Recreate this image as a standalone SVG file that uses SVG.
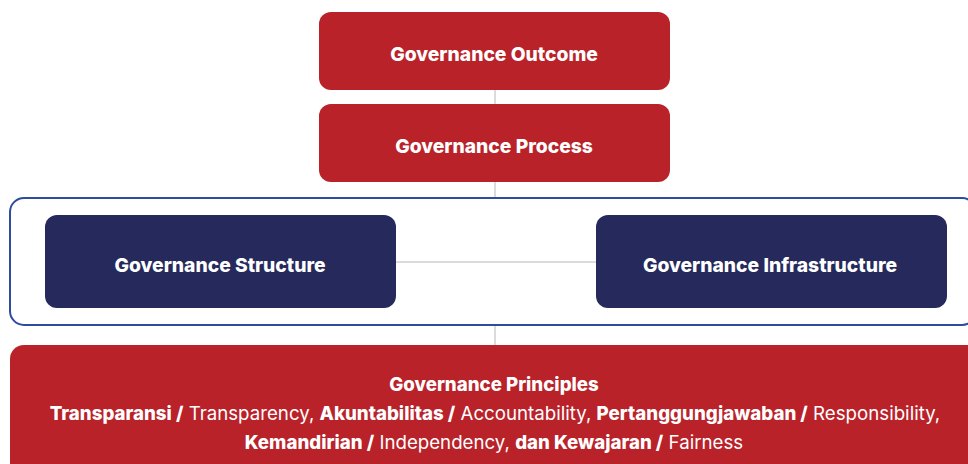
<svg xmlns="http://www.w3.org/2000/svg" width="968" height="464" viewBox="0 0 968 464">
<style>
.red{fill:#b92229}
.navy{fill:#25295c}
.t{font-family:Inter,"Noto Sans",sans-serif;font-size:19.3px;fill:#fff;text-anchor:middle;dominant-baseline:central;font-weight:800}
.l{font-size:18.7px}
.b{font-weight:800}
.n{font-weight:400}
.conn{stroke:#cfcfcf;stroke-width:1.5;fill:none}
</style>
<rect width="968" height="464" fill="#fff"/>
<g id="connectors">
<line class="conn" x1="495" y1="90" x2="495" y2="104"/>
<line class="conn" x1="495" y1="182" x2="495" y2="198"/>
<line class="conn" x1="396" y1="262" x2="596" y2="262"/>
<line class="conn" x1="495" y1="325" x2="495" y2="345"/>
</g>
<g id="container">
<rect x="10" y="198" width="966" height="127" rx="14" fill="none" stroke="#2d4c9c" stroke-width="2"/>
</g>
<g id="outcome">
<rect class="red" x="319" y="12" width="351" height="78" rx="12"/>
<text class="t" x="494" y="54">Governance Outcome</text>
</g>
<g id="process">
<rect class="red" x="319" y="104" width="351" height="78" rx="12"/>
<text class="t" x="494" y="146">Governance Process</text>
</g>
<g id="structure">
<rect class="navy" x="45" y="215" width="351" height="93" rx="12"/>
<text class="t" x="220" y="265">Governance Structure</text>
</g>
<g id="infrastructure">
<rect class="navy" x="596" y="215" width="351" height="93" rx="12"/>
<text class="t" x="770" y="265">Governance Infrastructure</text>
</g>
<g id="principles">
<rect class="red" x="10" y="345" width="980" height="140" rx="14"/>
<text class="t l" x="494" y="384">Governance Principles</text>
<text class="t l" x="495" y="413"><tspan class="b">Transparansi /</tspan><tspan class="n"> Transparency, </tspan><tspan class="b">Akuntabilitas /</tspan><tspan class="n"> Accountability, </tspan><tspan class="b">Pertanggungjawaban /</tspan><tspan class="n"> Responsibility,</tspan></text>
<text class="t l" x="494" y="442"><tspan class="b">Kemandirian /</tspan><tspan class="n"> Independency, </tspan><tspan class="b">dan Kewajaran /</tspan><tspan class="n"> Fairness</tspan></text>
</g>
</svg>
